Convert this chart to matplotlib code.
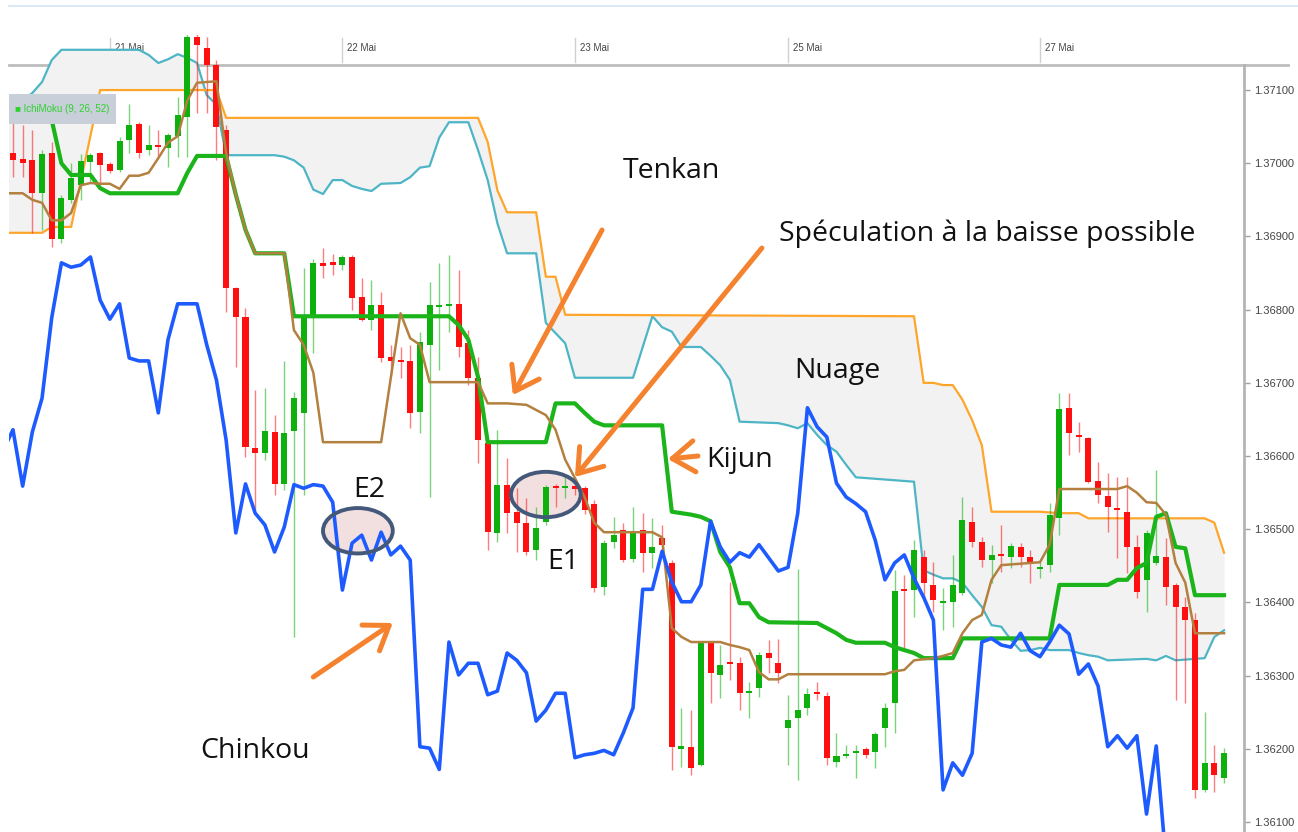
import numpy as np
import matplotlib
matplotlib.use("Agg")
import matplotlib.pyplot as plt
from matplotlib.lines import Line2D
from matplotlib.patches import Ellipse, Rectangle, FancyArrowPatch

W, H = 1298, 832

# hourly candles, bar 0 = first visible bar
opens = [1.37014, 1.37006, 1.37004, 1.36959, 1.37014, 1.36897, 1.36950, 1.36970, 1.37002, 1.37014,
         1.36999, 1.36991, 1.37032, 1.37054, 1.37018, 1.37025, 1.37021, 1.37037, 1.37063, 1.37172,
         1.37157, 1.37134, 1.37045, 1.36830, 1.36790, 1.36611, 1.36604, 1.36633, 1.36562, 1.36634,
         1.36659, 1.36790, 1.36864, 1.36865, 1.36861, 1.36872, 1.36817, 1.36786, 1.36806, 1.36735,
         1.36731, 1.36730, 1.36660, 1.36752, 1.36804, 1.36805, 1.36808, 1.36754, 1.36707, 1.36618,
         1.36495, 1.36561, 1.36524, 1.36509, 1.36472, 1.36510, 1.36559, 1.36556, 1.36559, 1.36556,
         1.36535, 1.36421, 1.36483, 1.36499, 1.36459, 1.36499, 1.36468, 1.36488, 1.36454, 1.36200,
         1.36203, 1.36178, 1.36345, 1.36301, 1.36319, 1.36317, 1.36276, 1.36283, 1.36331, 1.36317,
         1.36229, 1.36242, 1.36256, 1.36278, 1.36272, 1.36182, 1.36190, 1.36194, 1.36200, 1.36196,
         1.36229, 1.36263, 1.36418, 1.36417, 1.36462, 1.36424, 1.36399, 1.36401, 1.36413, 1.36510,
         1.36483, 1.36458, 1.36466, 1.36462, 1.36476, 1.36462, 1.36446, 1.36451, 1.36515, 1.36666,
         1.36629, 1.36625, 1.36566, 1.36545, 1.36529, 1.36524, 1.36476, 1.36431, 1.36454, 1.36462,
         1.36424, 1.36394, 1.36376, 1.36144, 1.36181, 1.36160]
highs = [1.37055, 1.37052, 1.37045, 1.37018, 1.37029, 1.36957, 1.37000, 1.37013, 1.37014, 1.37015,
         1.37002, 1.37036, 1.37081, 1.37056, 1.37052, 1.37045, 1.37041, 1.37090, 1.37182, 1.37178,
         1.37172, 1.37141, 1.37052, 1.36831, 1.36802, 1.36690, 1.36693, 1.36656, 1.36730, 1.36688,
         1.36857, 1.36869, 1.36884, 1.36876, 1.36875, 1.36875, 1.36843, 1.36841, 1.36824, 1.36752,
         1.36749, 1.36752, 1.36770, 1.36838, 1.36864, 1.36875, 1.36854, 1.36772, 1.36735, 1.36622,
         1.36636, 1.36597, 1.36556, 1.36543, 1.36530, 1.36561, 1.36562, 1.36571, 1.36565, 1.36559,
         1.36540, 1.36485, 1.36517, 1.36509, 1.36530, 1.36522, 1.36515, 1.36506, 1.36458, 1.36256,
         1.36253, 1.36345, 1.36347, 1.36342, 1.36428, 1.36326, 1.36291, 1.36332, 1.36349, 1.36350,
         1.36274, 1.36446, 1.36283, 1.36291, 1.36278, 1.36222, 1.36205, 1.36205, 1.36203, 1.36223,
         1.36263, 1.36444, 1.36438, 1.36485, 1.36472, 1.36455, 1.36420, 1.36465, 1.36544, 1.36530,
         1.36489, 1.36479, 1.36506, 1.36481, 1.36481, 1.36472, 1.36455, 1.36536, 1.36686, 1.36686,
         1.36647, 1.36626, 1.36592, 1.36577, 1.36571, 1.36571, 1.36492, 1.36499, 1.36581, 1.36488,
         1.36427, 1.36407, 1.36386, 1.36250, 1.36205, 1.36201]
lows = [1.36981, 1.36981, 1.36905, 1.36909, 1.36886, 1.36891, 1.36946, 1.36950, 1.36973, 1.36973,
        1.36987, 1.36988, 1.37014, 1.37007, 1.37011, 1.37009, 1.36995, 1.37009, 1.37009, 1.37069,
        1.37069, 1.37004, 1.36797, 1.36722, 1.36599, 1.36526, 1.36595, 1.36547, 1.36554, 1.36353,
        1.36547, 1.36741, 1.36843, 1.36847, 1.36854, 1.36800, 1.36784, 1.36772, 1.36728, 1.36711,
        1.36707, 1.36638, 1.36632, 1.36544, 1.36718, 1.36770, 1.36735, 1.36697, 1.36591, 1.36472,
        1.36483, 1.36495, 1.36469, 1.36465, 1.36458, 1.36506, 1.36530, 1.36543, 1.36547, 1.36521,
        1.36414, 1.36410, 1.36474, 1.36455, 1.36455, 1.36442, 1.36447, 1.36462, 1.36171, 1.36175,
        1.36164, 1.36177, 1.36263, 1.36270, 1.36294, 1.36253, 1.36242, 1.36271, 1.36304, 1.36290,
        1.36178, 1.36158, 1.36246, 1.36267, 1.36178, 1.36175, 1.36188, 1.36160, 1.36188, 1.36174,
        1.36203, 1.36222, 1.36338, 1.36380, 1.36403, 1.36387, 1.36362, 1.36367, 1.36410, 1.36476,
        1.36448, 1.36427, 1.36442, 1.36447, 1.36448, 1.36427, 1.36433, 1.36442, 1.36492, 1.36602,
        1.36606, 1.36563, 1.36536, 1.36496, 1.36461, 1.36440, 1.36406, 1.36387, 1.36451, 1.36397,
        1.36267, 1.36263, 1.36133, 1.36141, 1.36141, 1.36153]
closes = [1.37004, 1.37000, 1.36959, 1.37013, 1.36897, 1.36953, 1.36980, 1.37003, 1.37011, 1.36998,
          1.36989, 1.37030, 1.37052, 1.37014, 1.37025, 1.37022, 1.37039, 1.37066, 1.37172, 1.37161,
          1.37134, 1.37050, 1.36830, 1.36790, 1.36612, 1.36604, 1.36634, 1.36562, 1.36632, 1.36679,
          1.36790, 1.36864, 1.36860, 1.36861, 1.36872, 1.36816, 1.36786, 1.36806, 1.36734, 1.36730,
          1.36728, 1.36659, 1.36756, 1.36806, 1.36806, 1.36808, 1.36749, 1.36707, 1.36622, 1.36496,
          1.36561, 1.36522, 1.36509, 1.36469, 1.36502, 1.36558, 1.36556, 1.36559, 1.36555, 1.36526,
          1.36420, 1.36481, 1.36492, 1.36458, 1.36496, 1.36468, 1.36476, 1.36479, 1.36203, 1.36204,
          1.36174, 1.36345, 1.36304, 1.36315, 1.36316, 1.36276, 1.36279, 1.36328, 1.36324, 1.36304,
          1.36240, 1.36253, 1.36275, 1.36275, 1.36188, 1.36190, 1.36193, 1.36197, 1.36192, 1.36220,
          1.36256, 1.36416, 1.36416, 1.36472, 1.36427, 1.36403, 1.36402, 1.36424, 1.36513, 1.36483,
          1.36458, 1.36465, 1.36463, 1.36477, 1.36462, 1.36455, 1.36448, 1.36520, 1.36664, 1.36632,
          1.36626, 1.36565, 1.36547, 1.36530, 1.36526, 1.36476, 1.36414, 1.36495, 1.36463, 1.36421,
          1.36394, 1.36376, 1.36144, 1.36181, 1.36164, 1.36194]

# chinkou, one value per bar starting at bar -1
chikou = [1.36608, 1.36636, 1.36559, 1.36633, 1.36679, 1.36789, 1.36864, 1.36858, 1.36861, 1.36872,
          1.36813, 1.36787, 1.36808, 1.36734, 1.36730, 1.36730, 1.36659, 1.36759, 1.36808, 1.36808,
          1.36808, 1.36752, 1.36704, 1.36622, 1.36495, 1.36562, 1.36522, 1.36506, 1.36469, 1.36503,
          1.36561, 1.36556, 1.36561, 1.36559, 1.36537, 1.36417, 1.36481, 1.36492, 1.36458, 1.36496,
          1.36465, 1.36477, 1.36458, 1.36203, 1.36201, 1.36172, 1.36346, 1.36301, 1.36317, 1.36317,
          1.36274, 1.36279, 1.36331, 1.36321, 1.36304, 1.36238, 1.36253, 1.36276, 1.36276, 1.36188,
          1.36192, 1.36194, 1.36198, 1.36192, 1.36222, 1.36256, 1.36418, 1.36418, 1.36470, 1.36428,
          1.36401, 1.36401, 1.36424, 1.36511, 1.36476, 1.36455, 1.36468, 1.36462, 1.36479, 1.36461,
          1.36443, 1.36448, 1.36522, 1.36666, 1.36640, 1.36626, 1.36563, 1.36544, 1.36535, 1.36524,
          1.36485, 1.36431, 1.36454, 1.36465, 1.36433, 1.36407, 1.36376, 1.36144, 1.36181, 1.36164,
          1.36194, 1.36346, 1.36351, 1.36342, 1.36339, 1.36358, 1.36334, 1.36326, 1.36346, 1.36369,
          1.36357, 1.36302, 1.36316, 1.36286, 1.36203, 1.36218, 1.36201, 1.36218, 1.36111, 1.36204,
          1.36048]

# lines read as (bar, price) vertices
tenkan_x = [-1, 0, 1, 2, 3, 4, 5, 6, 7, 8, 9, 10, 11, 12, 13, 14, 15, 16, 17, 18, 19, 20, 21, 22,
            23, 24, 25, 28, 29, 30, 31, 32, 38, 40, 41, 42, 43, 48, 49, 51, 52, 53, 54, 55, 56, 57,
            58, 59, 60, 61, 66, 67, 68, 69, 70, 73, 74, 75, 76, 77, 78, 79, 80, 90, 91, 92, 93, 95,
            96, 97, 98, 99, 100, 101, 102, 106, 107, 108, 114, 115, 116, 117, 118, 119, 120, 121,
            122, 125]
tenkan_y = [1.36959, 1.36959, 1.36959, 1.36950, 1.36946, 1.36922, 1.36922, 1.36932, 1.36970, 1.36973,
            1.36972, 1.36972, 1.36965, 1.36983, 1.36983, 1.36987, 1.37007, 1.37028, 1.37037, 1.37086,
            1.37110, 1.37111, 1.37112, 1.37014, 1.36957, 1.36909, 1.36877, 1.36877, 1.36772, 1.36752,
            1.36714, 1.36619, 1.36619, 1.36795, 1.36761, 1.36752, 1.36701, 1.36701, 1.36672, 1.36672,
            1.36671, 1.36670, 1.36663, 1.36656, 1.36636, 1.36595, 1.36570, 1.36544, 1.36509, 1.36496,
            1.36496, 1.36489, 1.36365, 1.36353, 1.36346, 1.36346, 1.36342, 1.36339, 1.36335, 1.36305,
            1.36295, 1.36295, 1.36302, 1.36302, 1.36306, 1.36308, 1.36321, 1.36324, 1.36327, 1.36331,
            1.36358, 1.36376, 1.36383, 1.36431, 1.36451, 1.36455, 1.36479, 1.36555, 1.36555, 1.36559,
            1.36550, 1.36537, 1.36536, 1.36520, 1.36454, 1.36427, 1.36358, 1.36358]

kijun_x = [3, 4, 5, 6, 8, 9, 10, 17, 18, 19, 22, 23, 24, 25, 28, 29, 45, 46, 47, 48, 49, 55, 56, 58,
           59, 60, 61, 67, 68, 69, 70, 71, 72, 73, 74, 75, 76, 77, 78, 83, 84, 85, 86, 87, 90, 91,
           92, 93, 94, 97, 98, 107, 108, 113, 114, 115, 116, 117, 118, 119, 120, 121, 122, 125]
kijun_y = [1.37086, 1.37059, 1.37000, 1.36984, 1.36984, 1.36966, 1.36959, 1.36959, 1.36987, 1.37010,
           1.37010, 1.36957, 1.36909, 1.36877, 1.36877, 1.36791, 1.36791, 1.36779, 1.36759, 1.36708,
           1.36619, 1.36619, 1.36672, 1.36672, 1.36659, 1.36647, 1.36642, 1.36642, 1.36524, 1.36522,
           1.36520, 1.36517, 1.36511, 1.36469, 1.36448, 1.36399, 1.36399, 1.36380, 1.36373, 1.36372,
           1.36365, 1.36358, 1.36349, 1.36345, 1.36345, 1.36339, 1.36335, 1.36331, 1.36324, 1.36324,
           1.36351, 1.36351, 1.36424, 1.36424, 1.36431, 1.36431, 1.36447, 1.36454, 1.36517, 1.36522,
           1.36476, 1.36474, 1.36410, 1.36410]

senkou_a_x = [-1, 0, 1, 2, 3, 4, 5, 13, 14, 15, 16, 17, 18, 19, 20, 21, 22, 27, 28, 29, 30, 31, 32,
              33, 34, 35, 36, 37, 38, 40, 41, 42, 43, 44, 45, 47, 48, 49, 50, 51, 54, 55, 56, 57, 58,
              64, 65, 66, 67, 68, 69, 71, 72, 73, 74, 75, 79, 80, 81, 82, 83, 84, 85, 86, 87, 93, 94,
              95, 96, 97, 98, 99, 100, 101, 102, 103, 104, 105, 106, 107, 109, 110, 111, 112, 113,
              117, 118, 119, 120, 123, 124, 125]
senkou_a_y = [1.37052, 1.37073, 1.37086, 1.37096, 1.37111, 1.37141, 1.37155, 1.37155, 1.37148, 1.37137,
              1.37142, 1.37149, 1.37144, 1.37137, 1.37093, 1.37080, 1.37011, 1.37011, 1.37009, 1.37004,
              1.36994, 1.36964, 1.36958, 1.36977, 1.36977, 1.36969, 1.36965, 1.36962, 1.36972, 1.36973,
              1.36981, 1.36994, 1.36996, 1.37035, 1.37056, 1.37056, 1.37018, 1.36977, 1.36918, 1.36877,
              1.36877, 1.36782, 1.36768, 1.36754, 1.36707, 1.36707, 1.36749, 1.36791, 1.36776, 1.36770,
              1.36749, 1.36749, 1.36737, 1.36724, 1.36704, 1.36647, 1.36645, 1.36642, 1.36638, 1.36645,
              1.36629, 1.36615, 1.36606, 1.36588, 1.36571, 1.36565, 1.36444, 1.36438, 1.36433, 1.36433,
              1.36427, 1.36410, 1.36394, 1.36369, 1.36367, 1.36349, 1.36334, 1.36335, 1.36338, 1.36335,
              1.36335, 1.36331, 1.36328, 1.36326, 1.36321, 1.36323, 1.36321, 1.36327, 1.36321, 1.36324,
              1.36353, 1.36362]

senkou_b_x = [-1, 3, 4, 6, 9, 21, 22, 48, 49, 50, 51, 54, 55, 56, 57, 93, 94, 95, 96, 97, 98, 99,
              100, 101, 106, 108, 110, 111, 123, 124, 125]
senkou_b_y = [1.36905, 1.36905, 1.36913, 1.36913, 1.37100, 1.37100, 1.37062, 1.37062, 1.37029, 1.36963,
              1.36933, 1.36933, 1.36845, 1.36845, 1.36793, 1.36791, 1.36700, 1.36700, 1.36697, 1.36697,
              1.36677, 1.36649, 1.36615, 1.36524, 1.36524, 1.36522, 1.36522, 1.36515, 1.36515, 1.36509,
              1.36468]

day_bars = [10, 34, 58, 80, 106]
day_labels = ["21 Mai", "22 Mai", "23 Mai", "25 Mai", "27 Mai"]
price_ticks = [1.361, 1.362, 1.363, 1.364, 1.365, 1.366, 1.367, 1.368, 1.369, 1.370, 1.371]

GREEN = "#0DB00D"
RED = "#FF1010"
ORANGE_ARROW = "#F5822E"
TXT_FONT = ["Open Sans", "DejaVu Sans"]
SMALL_FONT = ["Liberation Sans Narrow", "Liberation Sans", "DejaVu Sans"]

fig = plt.figure(figsize=(W / 100, H / 100), dpi=100)
ax = fig.add_axes([9 / W, 0, 1235 / W, 797 / H])
ax.set_xlim(-0.41, 127.06)
ax.set_ylim(1.360865, 1.371752)

# cloud
xs = np.union1d(senkou_a_x, senkou_b_x)
ya = np.interp(xs, senkou_a_x, senkou_a_y)
yb = np.interp(xs, senkou_b_x, senkou_b_y)
ax.fill_between(xs, ya, yb, color="#F2F2F2", lw=0, zorder=1)
ax.plot(senkou_a_x, senkou_a_y, color="#4DB5C6", lw=1.6, zorder=2)
ax.plot(senkou_b_x, senkou_b_y, color="#FFA52A", lw=1.6, zorder=2)

# header strip
yt = ax.get_yaxis_transform()
ax.plot([0, 1.036], [1.37134, 1.37134], transform=yt, color="#BDBDBD", lw=2,
        clip_on=False, zorder=0.8)
for b, lab in zip(day_bars, day_labels):
    ax.plot([b, b], [1.37138, 1.37171], color="#D0D0D0", lw=1, zorder=0.8)
    ax.text(b + 0.5, 1.37158, lab, fontsize=7, color="#444444", va="center",
            family=SMALL_FONT, zorder=0.9)

# ellipse fills (under lines)
ell = [(35.6, 1.36498), (55.0, 1.365475)]
for cx, cy in ell:
    ax.add_patch(Ellipse((cx, cy), 7.2, 0.00062, facecolor="#F0DADA", edgecolor="none",
                         alpha=0.85, zorder=2.5))

# candles
o, h, l, c = map(np.array, (opens, highs, lows, closes))
x = np.arange(len(o))
up = c >= o
ax.vlines(x, l, h, colors=np.where(up, GREEN, RED), lw=1, alpha=0.55, zorder=3)
body = np.maximum(np.abs(c - o), 0.00003)
ax.bar(x, body, bottom=(o + c) / 2 - body / 2, width=0.62,
       color=np.where(up, GREEN, RED), lw=0, zorder=3.1)

# ichimoku lines
ax.plot(kijun_x, kijun_y, color="#1BB51B", lw=3.0, zorder=4, solid_joinstyle="round")
ax.plot(tenkan_x, tenkan_y, color="#B3803F", lw=1.8, zorder=4.1, solid_joinstyle="round")
ax.plot(np.arange(-1, len(chikou) - 1), chikou, color="#1E5BFF", lw=2.6, zorder=4.2,
        solid_joinstyle="round")

for cx, cy in ell:
    ax.add_patch(Ellipse((cx, cy), 7.2, 0.00062, facecolor="none", edgecolor="#44597A",
                         lw=2.8, zorder=5))

# indicator label
ax.add_patch(Rectangle((-0.41, 1.37054), 11.05, 0.00040, facecolor="#C8CFD9",
                       edgecolor="none", zorder=7, clip_on=False))
ax.text(0.2, 1.37074, "\u25a0 IchiMoku (9, 26, 52)", fontsize=7, color="#2ED12E",
        va="center", family=SMALL_FONT, zorder=7.1)

# annotations
arrows = [((60.8, 1.369088), (51.6, 1.366834)),
          ((77.3, 1.368842), (58.0, 1.365714)),
          ((70.7, 1.366001), (67.6, 1.365960)),
          ((31.0, 1.362982), (39.2, 1.363720))]
for tail, tip in arrows:
    ax.add_patch(FancyArrowPatch(tail, tip, arrowstyle="->,head_length=0.5,head_width=0.35",
                                 mutation_scale=32, lw=3.6, color=ORANGE_ARROW,
                                 shrinkA=0, shrinkB=0, zorder=8, clip_on=False))

notes = [(62.9, 1.369799, "Tenkan"), (79.1, 1.368938, "Sp\u00e9culation \u00e0 la baisse possible"),
         (80.6, 1.367067, "Nuage"), (71.6, 1.365851, "Kijun"), (19.3, 1.361876, "Chinkou"),
         (35.1, 1.365441, "E2"), (55.1, 1.364457, "E1")]
for nx, ny, s in notes:
    ax.text(nx, ny, s, fontsize=20.5, color="#111111", va="baseline", ha="left",
            family=TXT_FONT, zorder=9)

# axes styling
ax.set_xticks([])
ax.yaxis.tick_right()
ax.set_yticks(price_ticks)
ax.set_yticklabels([f"{p:.5f}" for p in price_ticks], family=SMALL_FONT)
ax.tick_params(axis="y", length=4, width=1, color="#A0A0A0", pad=3, labelsize=8,
               labelcolor="#444444")
for side in ("top", "left", "bottom"):
    ax.spines[side].set_visible(False)
ax.spines["right"].set_color("#B4B4B4")
ax.spines["right"].set_linewidth(2)
ax.spines["right"].set_bounds(1.360865, 1.37134)
ax.set_facecolor("white")

fig.add_artist(Line2D([9 / W, 1], [1 - 6 / H, 1 - 6 / H], color="#D6E4F5", lw=1.2))

fig.savefig("out.png", dpi=100)
